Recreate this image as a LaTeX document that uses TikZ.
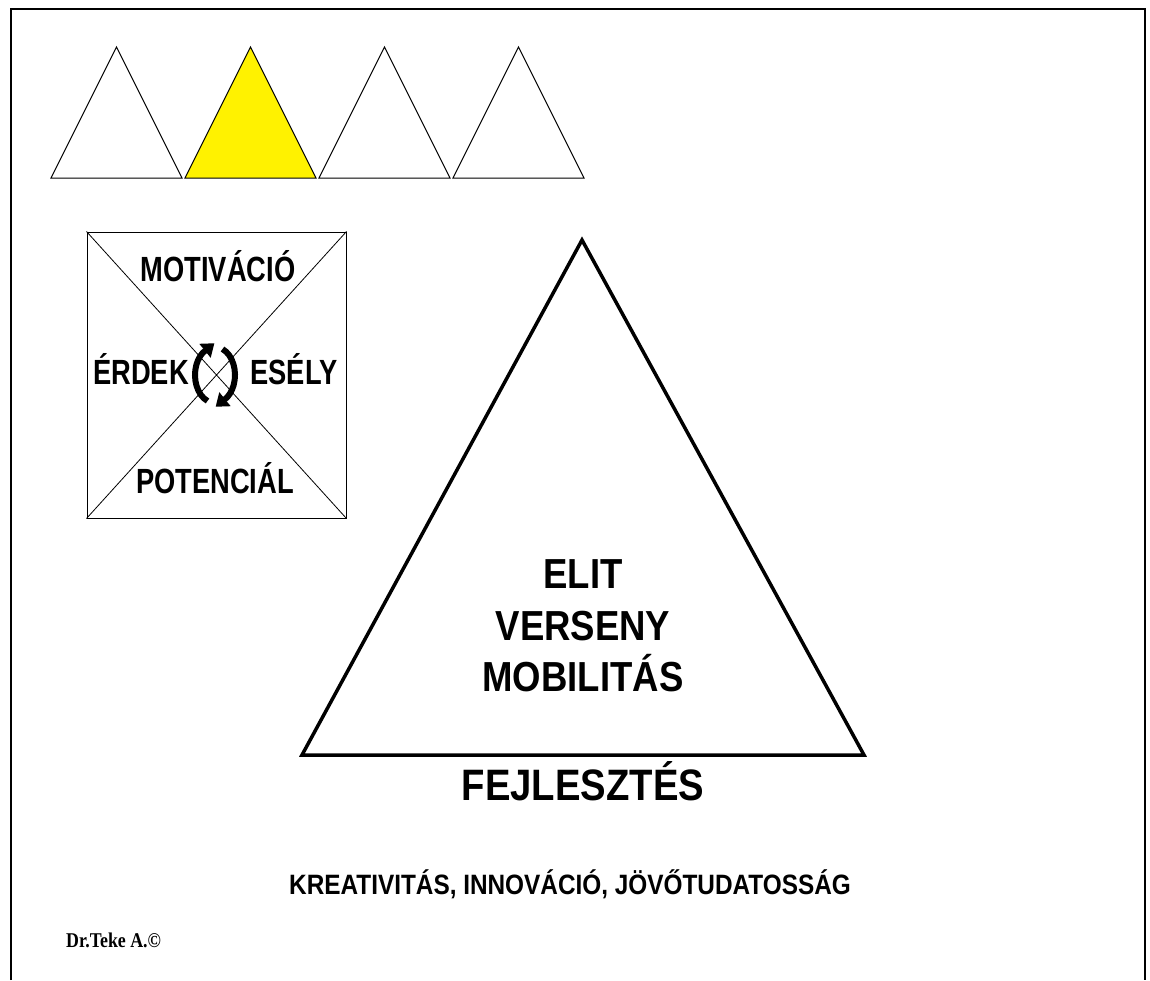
\documentclass[tikz,border=0pt]{standalone}
\usepackage{fontspec}
\setmainfont{Liberation Sans}
\newfontfamily\boxfont[FakeStretch=0.78]{Liberation Sans}
\newfontfamily\bigfont[FakeStretch=0.87]{Liberation Sans}
\newfontfamily\signfont[FakeStretch=0.85]{Liberation Serif}
\tikzset{x=1pt, y=-1pt, % one unit is one pixel, y runs downwards
smalltri/.style={draw, line width=1pt, line join=miter}, % the row of small triangles
cycarc/.style={line width=6pt}, % bold round arrows
boxlabel/.style={font=\boxfont\bfseries\fontsize{35}{40}\selectfont, anchor=base, inner sep=0pt},
biglabel/.style={font=\bigfont\bfseries\fontsize{42}{48}\selectfont, anchor=base, inner sep=0pt},
}
\begin{document}
\begin{tikzpicture}
  \useasboundingbox (0,0) rectangle (1150,980);
  \draw[line width=2pt] (11,980) -- (11,9) -- (1145,9) -- (1145,980);

  % row of small triangles, the second one yellow
  \foreach \i/\fc in {0/white, 1/yellow, 2/white, 3/white}
    \draw[smalltri, fill=\fc] (51+134*\i,178) -- (116.5+134*\i,47) -- (182+134*\i,178) -- cycle;

  % square with the four words
  \node[draw, line width=1pt, minimum width=259pt, minimum height=286pt, inner sep=0pt] (sq) at (216.5,375) {};
  \draw[line width=0.8pt] (sq.north west) -- (sq.south east)
        (sq.north east) -- (sq.south west);
  \node[boxlabel] (motiv) at (218,281) {MOTIVÁCIÓ};
  \node[boxlabel] (erdek) at (141,384) {ÉRDEK};
  \node[boxlabel] (esely) at (294,384) {ESÉLY};
  \node[boxlabel] (poten) at (215,493) {POTENCIÁL};

  % the two round arrows, heads drawn by hand
  \coordinate (hub) at (215,375);
  \draw[cycarc] (hub) ++(112:20 and 28) arc[start angle=112, end angle=241, x radius=20, y radius=28];
  \draw[cycarc] (hub) ++(292:20 and 28) arc[start angle=292, end angle=421, x radius=20, y radius=28];
  \coordinate (ltip) at (214.3,343.3);
  \coordinate (rtip) at (215.7,406.7);
  \fill (ltip) -- (210.7,357.8) -- (199.3,343.8) -- cycle;
  \fill (rtip) -- (230.7,406.2) -- (219.3,392.2) -- cycle;

  % big triangle
  \coordinate (apex) at (582,240);
  \coordinate (right) at (864,755);
  \coordinate (left) at (302,755);
  \draw[line width=3.5pt, line join=miter] (apex) -- (right) -- (left) -- cycle;
  \node[biglabel] (elit) at (583,588) {ELIT};
  \node[biglabel] (verseny) at (583,640) {VERSENY};
  \node[biglabel] (mobil) at (583,691) {MOBILITÁS};

  \node[font=\bigfont\bfseries\fontsize{44}{50}\selectfont, anchor=base, inner sep=0pt] (fejl) at (583,800) {FEJLESZTÉS};
  \node[font=\bigfont\bfseries\fontsize{28}{32}\selectfont, anchor=base, inner sep=0pt] (kreat) at (570,894) {KREATIVITÁS, INNOVÁCIÓ, JÖVŐTUDATOSSÁG};
  \node[font=\signfont\bfseries\fontsize{21}{24}\selectfont, anchor=base west, inner sep=0pt] (sign) at (66,947) {Dr.Teke A.©};
\end{tikzpicture}
\end{document}
